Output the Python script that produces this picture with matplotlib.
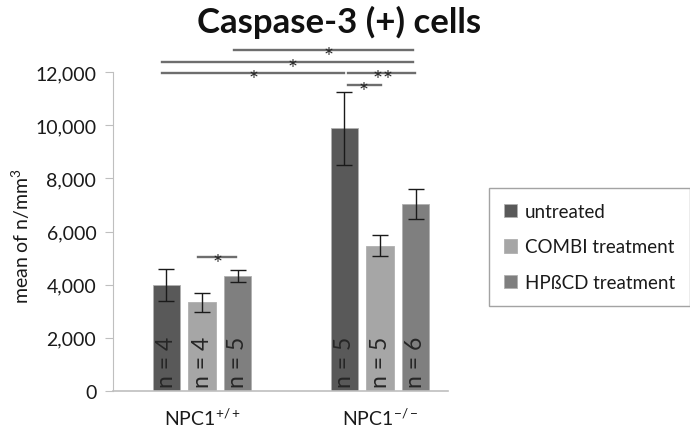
import matplotlib
matplotlib.use("Agg")
import matplotlib.pyplot as plt
import numpy as np

plt.rcParams['font.family'] = ['Lato', 'DejaVu Sans']
plt.rcParams['mathtext.fontset'] = 'custom'
plt.rcParams['mathtext.rm'] = 'Lato'
plt.rcParams['mathtext.it'] = 'Lato'

groups = ['NPC1$^{+/+}$', 'NPC1$^{-/-}$']
series = ['untreated', 'COMBI treatment', 'HPßCD treatment']
means = {
    'untreated': [4000, 9890],
    'COMBI treatment': [3330, 5460],
    'HPßCD treatment': [4320, 7030],
}
errors = {
    'untreated': [600, 1370],
    'COMBI treatment': [370, 400],
    'HPßCD treatment': [220, 570],
}
n_labels = {
    'untreated': ['n = 4', 'n = 5'],
    'COMBI treatment': ['n = 4', 'n = 5'],
    'HPßCD treatment': ['n = 5', 'n = 6'],
}
colors = ['#595959', '#a6a6a6', '#7f7f7f']
yticks = [0, 2000, 4000, 6000, 8000, 10000, 12000]
ytick_labels = ['0', '2,000', '4,000', '6,000', '8,000', '10,000', '12,000']

# significance brackets: (x_start, x_end, y, labels, star x positions)
sig_lines = [
    (0.18, 1.185, 12830, ['*'], [0.71]),
    (-0.225, 1.185, 12380, ['*'], [0.51]),
    (-0.225, 0.795, 11960, ['*'], [0.29]),
    (0.82, 1.195, 11960, ['*', '*'], [0.985, 1.045]),
    (0.82, 1.005, 11510, ['*'], [0.91]),
    (-0.02, 0.19, 5040, ['*'], [0.085]),
]

fig = plt.figure(figsize=(6.9, 4.35), dpi=100)
ax = fig.add_axes([113/690, 1-392/435, (448-113)/690, (392-73)/435])

x = np.arange(len(groups))
offset = 0.2
width = 0.152
for i, s in enumerate(series):
    xs = x + (i-1)*offset
    ax.bar(xs, means[s], width=width, color=colors[i], edgecolor='#b0b0b0',
           linewidth=0.6, label=s, zorder=2)
    ax.errorbar(xs, means[s], yerr=errors[s], fmt='none', ecolor='#1a1a1a',
                elinewidth=1.0, capsize=5.5, capthick=1.0, zorder=3)
    for xi, lab in zip(xs, n_labels[s]):
        ax.text(xi, 1100, lab, rotation=90, ha='center', va='center',
                fontsize=16.5, color='#262626', zorder=4)

for x0, x1, y, labs, sx in sig_lines:
    ax.plot([x0, x1], [y, y], color='#6e6e6e', lw=1.7, clip_on=False, zorder=5)
    for lab, xx in zip(labs, sx):
        ax.text(xx, y - 250, lab, ha='center', va='center', fontsize=17,
                color='#262626', clip_on=False, zorder=6)

ax.set_xlim(-0.5, 1.382)
ax.set_ylim(0, 12000)
ax.set_yticks(yticks)
ax.set_yticklabels(ytick_labels, fontsize=14, color='#1a1a1a')
ax.set_xticks(x)
ax.set_xticklabels(groups, fontsize=14, color='#1a1a1a')
ax.tick_params(axis='x', length=0, pad=11)
ax.tick_params(axis='y', length=6, color='#bfbfbf', pad=6)
for sp in ['top', 'right']:
    ax.spines[sp].set_visible(False)
ax.spines['left'].set_color('#bfbfbf')
ax.spines['bottom'].set_color('#bfbfbf')
ax.spines['bottom'].set_linewidth(1.2)
ax.set_ylabel('mean of n/mm$^3$', fontsize=14, color='#1a1a1a')
ax.yaxis.set_label_coords((32-113)/335, 0.49)

fig.text(339/690, 1-22/435, 'Caspase-3 (+) cells', ha='center', va='center',
         fontsize=25, fontweight='bold', color='#111111')

leg = fig.legend(loc='center', bbox_to_anchor=(589.5/690, 1-248/435),
                 fontsize=13.5, frameon=True, fancybox=False,
                 edgecolor='#8c8c8c', labelspacing=1.0, handlelength=0.7,
                 handleheight=0.7, handletextpad=0.4, borderpad=0.8,
                 borderaxespad=0)
leg.get_frame().set_linewidth(1.0)
for t in leg.get_texts():
    t.set_color('#1a1a1a')

fig.savefig('out.png', dpi=100)
